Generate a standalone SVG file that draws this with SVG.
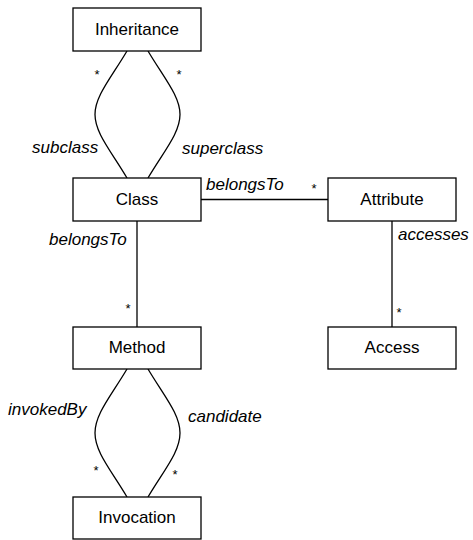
<svg xmlns="http://www.w3.org/2000/svg" width="473" height="540" viewBox="0 0 473 540">
<style>
.box{fill:#fff;stroke:#000;stroke-width:1.3}
.lbl{font-family:"Liberation Sans",Arial,sans-serif;font-size:17px;fill:#000;text-anchor:middle}
.role{font-family:"Liberation Sans",Arial,sans-serif;font-size:17px;font-style:italic;fill:#000}
.star{font-family:"Liberation Sans",Arial,sans-serif;font-size:13px;fill:#000;text-anchor:middle}
.edge{fill:none;stroke:#000;stroke-width:1.3}
</style>
<rect width="473" height="540" fill="#fff"/>
<g id="connectors">
<path class="edge" d="M127,51 C111,78 95,96 95,114.5 C95,133 111,151 127,178"/>
<path class="edge" d="M148,51 C164,78 180,96 180,114.5 C180,133 164,151 148,178"/>
<path class="edge" d="M201,199.5 H328"/>
<path class="edge" d="M137,221 V327"/>
<path class="edge" d="M392,221 V327"/>
<path class="edge" d="M127,369 C111,396 95,414 95,433 C95,452 111,470 127,497"/>
<path class="edge" d="M148,369 C164,396 180,414 180,433 C180,452 164,470 148,497"/>
<text class="star" x="97" y="79">*</text>
<text class="star" x="179" y="79">*</text>
<text class="role" x="32" y="153">subclass</text>
<text class="role" x="182" y="154">superclass</text>
<text class="role" x="206" y="190">belongsTo</text>
<text class="star" x="314" y="193">*</text>
<text class="role" x="49" y="245">belongsTo</text>
<text class="star" x="128" y="313">*</text>
<text class="role" x="398" y="240">accesses</text>
<text class="star" x="399" y="317">*</text>
<text class="role" x="8" y="415">invokedBy</text>
<text class="role" x="188" y="422">candidate</text>
<text class="star" x="96" y="475">*</text>
<text class="star" x="175" y="479">*</text>
</g>
<g id="inheritance"><rect class="box" x="73" y="8" width="128" height="43"/><text class="lbl" x="137" y="35">Inheritance</text></g>
<g id="class"><rect class="box" x="73" y="178" width="128" height="43"/><text class="lbl" x="137" y="205">Class</text></g>
<g id="attribute"><rect class="box" x="328" y="178" width="128" height="43"/><text class="lbl" x="392" y="205">Attribute</text></g>
<g id="method"><rect class="box" x="73" y="327" width="128" height="42"/><text class="lbl" x="137" y="353">Method</text></g>
<g id="access"><rect class="box" x="328" y="327" width="128" height="42"/><text class="lbl" x="392" y="353">Access</text></g>
<g id="invocation"><rect class="box" x="73" y="497" width="128" height="42"/><text class="lbl" x="137" y="523">Invocation</text></g>
</svg>
